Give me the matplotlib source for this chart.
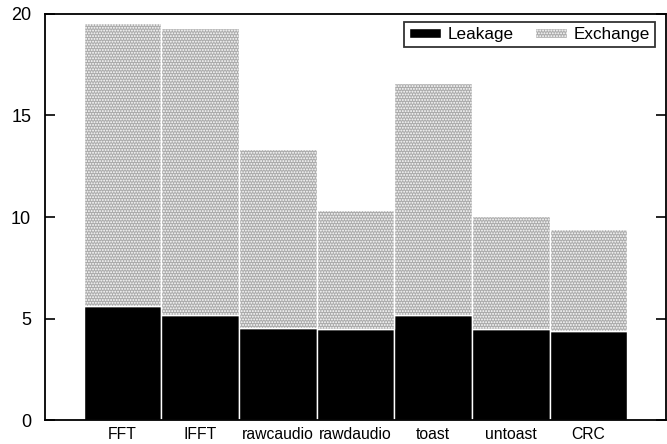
import numpy as np
import matplotlib.pyplot as plt

plt.rcParams['font.family'] = ['Liberation Sans', 'DejaVu Sans']
plt.rcParams['hatch.linewidth'] = 0.9
plt.rcParams['hatch.color'] = '#222222'

benchmarks = ['FFT', 'IFFT', 'rawcaudio', 'rawdaudio', 'toast', 'untoast', 'CRC']
leakage = [5.6, 5.17, 4.53, 4.48, 5.17, 4.48, 4.38]
exchange = [13.96, 14.13, 8.82, 5.86, 11.43, 5.57, 5.03]

fig = plt.figure(figsize=(6.67, 4.44), dpi=100)
ax = fig.add_axes([0.0675, 0.054, 0.931, 0.9145])

x = np.arange(len(benchmarks))
ax.bar(x, leakage, width=1.0, color='black', edgecolor='white', linewidth=1.0, label='Leakage')
ax.bar(x, exchange, width=1.0, bottom=leakage, color='#ababab', hatch='......',
       edgecolor='white', linewidth=1.0, label='Exchange')

ax.set_xlim(-1, 7)
ax.set_ylim(0, 20)
ax.set_yticks([0, 5, 10, 15, 20])
ax.set_xticks(x)
ax.set_xticklabels(benchmarks)
ax.tick_params(axis='x', length=0, labelsize=11.3, pad=5)
ax.tick_params(axis='y', direction='in', length=7, width=1.2, labelsize=13,
               right=True, pad=10)
for s in ax.spines.values():
    s.set_linewidth(1.3)

leg = ax.legend(loc='upper right', ncol=2, fontsize=12.3, frameon=True, fancybox=False,
                edgecolor='black', handlelength=1.9, handleheight=0.5,
                columnspacing=1.2, handletextpad=0.4, borderaxespad=0.0,
                borderpad=0.3, bbox_to_anchor=(0.983, 0.98))
leg.get_frame().set_linewidth(1.3)

fig.savefig('out.png', dpi=100)
